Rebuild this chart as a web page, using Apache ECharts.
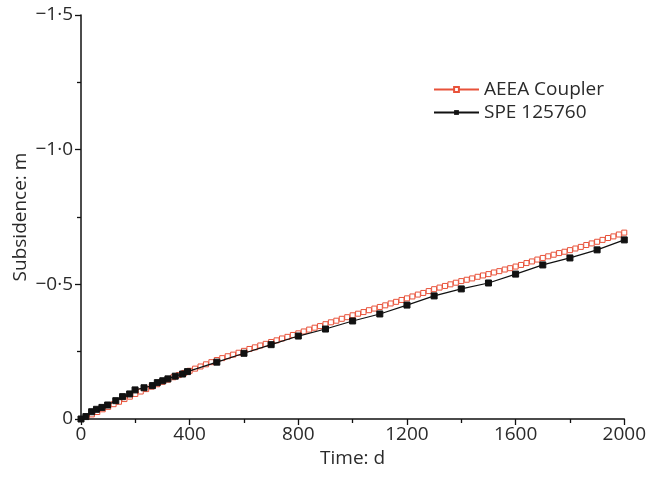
<!DOCTYPE html>
<html>
<head>
<meta charset="utf-8">
<script src="https://cdn.jsdelivr.net/npm/echarts@6/dist/echarts.min.js"></script>
<style>html,body{margin:0;padding:0;background:#fff}#c{width:649px;height:484px}</style>
</head>
<body>
<div id="c"></div>
<script>
// Times (d) for AEEA Coupler series
const aeeaTime = [0,20,40,60,80,100,120,140,160,180,200,220,240,260,280,300,320,340,360,380,400,420,440,460,480,500,520,540,560,580,600,620,640,660,680,700,720,740,760,780,800,820,840,860,880,900,920,940,960,980,1000,1020,1040,1060,1080,1100,1120,1140,1160,1180,1200,1220,1240,1260,1280,1300,1320,1340,1360,1380,1400,1420,1440,1460,1480,1500,1520,1540,1560,1580,1600,1620,1640,1660,1680,1700,1720,1740,1760,1780,1800,1820,1840,1860,1880,1900,1920,1940,1960,1980,2000];
// Subsidence (m) for AEEA Coupler
const aeeaSub = [0,-0.008,-0.017,-0.026,-0.036,-0.045,-0.055,-0.064,-0.074,-0.083,-0.093,-0.102,-0.111,-0.120,-0.129,-0.138,-0.146,-0.155,-0.163,-0.171,-0.179,-0.187,-0.195,-0.203,-0.211,-0.219,-0.226,-0.233,-0.239,-0.246,-0.253,-0.260,-0.266,-0.273,-0.279,-0.286,-0.292,-0.299,-0.305,-0.312,-0.318,-0.325,-0.332,-0.339,-0.345,-0.352,-0.359,-0.365,-0.372,-0.378,-0.385,-0.391,-0.397,-0.404,-0.410,-0.416,-0.422,-0.429,-0.435,-0.442,-0.448,-0.455,-0.462,-0.468,-0.475,-0.482,-0.488,-0.494,-0.500,-0.506,-0.512,-0.517,-0.522,-0.528,-0.533,-0.538,-0.544,-0.549,-0.555,-0.560,-0.566,-0.572,-0.579,-0.585,-0.592,-0.598,-0.604,-0.610,-0.616,-0.621,-0.627,-0.633,-0.639,-0.646,-0.652,-0.658,-0.665,-0.672,-0.678,-0.685,-0.692];
// Times (d) for SPE 125760 series
const speTime = [0,18,39,57,77,98,128,153,179,199,232,263,281,301,320,347,374,392,500,600,700,800,900,1000,1100,1200,1300,1400,1500,1600,1700,1800,1900,2000];
// Subsidence (m) for SPE 125760
const speSub = [0,-0.009,-0.027,-0.036,-0.043,-0.052,-0.068,-0.083,-0.093,-0.108,-0.116,-0.124,-0.135,-0.142,-0.149,-0.159,-0.167,-0.176,-0.211,-0.244,-0.276,-0.308,-0.334,-0.364,-0.390,-0.423,-0.457,-0.483,-0.505,-0.538,-0.572,-0.598,-0.628,-0.665];
// Axis tick labels
const xTickValues = [0,400,800,1200,1600,2000];
const xTickLabels = ['0','400','800','1200','1600','2000'];
const yTickValues = [0,-0.5,-1.0,-1.5];
const yTickLabels = ['0','\u22120\u00b75','\u22121\u00b70','\u22121\u00b75'];
const seriesNames = ['AEEA Coupler','SPE 125760'];

const FONT = '"Open Sans", "Noto Sans", sans-serif';
const FS = 19;
const TXT = '#2a2a2a';
const RED = '#e8523a';
const chart = echarts.init(document.getElementById('c'), null, {renderer:'canvas'});
const zip = (a,b) => a.map((v,i)=>[v,b[i]]);
chart.setOption({
  animation:false,
  backgroundColor:'#ffffff',
  grid:{left:81,right:22,top:15,bottom:65,containLabel:false},
  legend:{
    orient:'vertical', left:428, top:75, itemWidth:45, itemHeight:6, itemGap:4,
    textStyle:{fontFamily:FONT,fontSize:FS,color:TXT},
    data:seriesNames
  },
  xAxis:{
    type:'value', min:0, max:2000, interval:400,
    name:'Time: d', nameLocation:'middle', nameGap:27,
    nameTextStyle:{fontFamily:FONT,fontSize:FS,color:TXT},
    axisLine:{lineStyle:{color:'#111',width:1.5}},
    axisTick:{show:true,inside:false,length:6,lineStyle:{color:'#111',width:1.3}},
    minorTick:{show:true,splitNumber:2,length:4,lineStyle:{color:'#111',width:1.3}},
    splitLine:{show:false},
    axisLabel:{fontFamily:FONT,fontSize:FS,color:TXT,margin:6,
      formatter:v=>{const i=xTickValues.indexOf(v);return i>=0?xTickLabels[i]:'';}}
  },
  yAxis:{
    type:'value', min:-1.5, max:0, interval:0.5, inverse:true,
    axisLine:{show:true,lineStyle:{color:'#111',width:1.5}},
    axisTick:{show:true,inside:false,length:6,lineStyle:{color:'#111',width:1.3}},
    minorTick:{show:true,splitNumber:2,length:4,lineStyle:{color:'#111',width:1.3}},
    splitLine:{show:false},
    axisLabel:{fontFamily:FONT,fontSize:FS,color:TXT,margin:8,
      formatter:v=>{const i=yTickValues.findIndex(t=>Math.abs(t-v)<1e-9);return i>=0?yTickLabels[i]:'';}}
  },
  graphic:[{
    type:'text', x:21, y:217, rotation:Math.PI/2,
    style:{text:'Subsidence: m', font:FS+'px '+FONT, fill:TXT, align:'center', verticalAlign:'middle'}
  }],
  series:[
    {name:seriesNames[0], type:'line', data:zip(aeeaTime,aeeaSub), z:2,
     symbol:'rect', symbolSize:5, showAllSymbol:true,
     lineStyle:{color:RED,width:1},
     itemStyle:{color:'#fff',borderColor:RED,borderWidth:1}},
    {name:seriesNames[1], type:'line', data:zip(speTime,speSub), z:3,
     symbol:'rect', symbolSize:6, showAllSymbol:true,
     lineStyle:{color:'#111',width:1.2},
     itemStyle:{color:'#111',borderColor:'#111'}}
  ]
});
</script>
</body>
</html>
